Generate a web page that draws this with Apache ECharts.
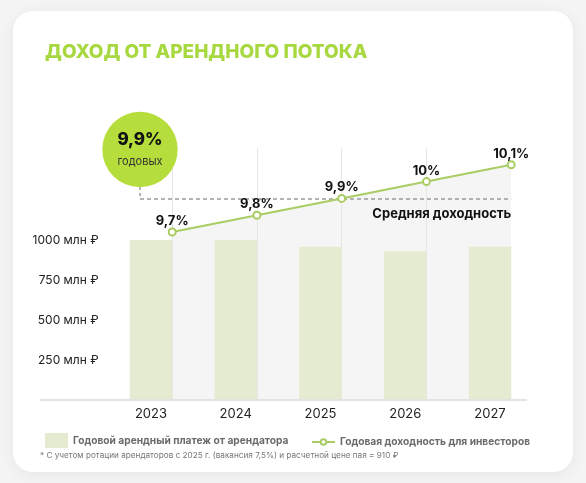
<!DOCTYPE html>
<html>
<head>
<meta charset="utf-8">
<script src="https://cdn.jsdelivr.net/npm/echarts@6/dist/echarts.min.js"></script>
<style>
  html, body { margin: 0; padding: 0; width: 586px; height: 483px; background: #f4f4f4; overflow: hidden; }
  #card { position: absolute; left: 13px; top: 11px; width: 560px; height: 461px; background: #fff; border-radius: 20px; box-shadow: 0 3px 16px rgba(0,0,0,0.06); }
  #chart { position: absolute; left: 0; top: 0; width: 586px; height: 483px; }
</style>
</head>
<body>
<div id="card"></div>
<div id="chart"></div>
<script>
const years = ['2023', '2024', '2025', '2026', '2027'];
const rentPayment = [1000, 1000, 958, 930, 958];
const investorYield = [9.7, 9.8, 9.9, 10.0, 10.1];
const averageYield = 9.9;
const yTicks = [250, 500, 750, 1000];
const titleText = 'ДОХОД ОТ АРЕНДНОГО ПОТОКА';
const barName = 'Годовой арендный платеж от арендатора';
const lineName = 'Годовая доходность для инвесторов';
const avgLabel = 'Средняя доходность';
const footnote = '* С учетом ротации арендаторов с 2025 г. (вакансия 7,5%) и расчетной цене пая = 910 ₽';

const FONT = 'Inter, "Noto Sans", sans-serif';
const GREEN = '#a9cd62';
const fmtPct = v => String(v).replace('.', ',') + '%';

const chart = echarts.init(document.getElementById('chart'), null, { renderer: 'canvas' });

const yieldPoints = investorYield.map((v, i) => [i, v]);

const gridLines = years.slice(0, years.length - 1).map((_, i) => ({
  xAxis: i,
  lineStyle: { color: '#e6e6e6', width: 1, type: 'solid' },
  label: { show: false }
}));

const legendText = { color: '#6b6b6b', fontSize: 10.2, fontWeight: 'bold', fontFamily: FONT };

const option = {
  backgroundColor: 'transparent',
  animation: false,
  textStyle: { fontFamily: FONT },
  title: {
    text: titleText,
    left: 40,
    top: 38,
    textStyle: { color: '#a8d840', fontSize: 19, fontWeight: 800, fontFamily: FONT }
  },
  grid: { left: 108.6, right: 53.6, top: 148, bottom: 83 },
  legend: [
    {
      left: 40, top: 428, itemWidth: 23, itemHeight: 15, itemGap: 6,
      textStyle: legendText,
      data: [{ name: barName, icon: 'rect' }]
    },
    {
      left: 306, top: 432, itemWidth: 23, itemHeight: 7, itemGap: 6,
      textStyle: legendText,
      data: [{ name: lineName }]
    }
  ],
  xAxis: [
    {
      type: 'category',
      data: years,
      axisLine: { show: false },
      axisTick: { show: false },
      axisLabel: { color: '#222', fontSize: 13, margin: 8 },
      splitLine: { show: false }
    },
    {
      type: 'value',
      min: -0.75,
      max: 4.25,
      show: false
    }
  ],
  yAxis: [
    {
      type: 'value',
      min: 0,
      max: 1575,
      interval: 250,
      axisLine: { show: false },
      axisTick: { show: false },
      splitLine: { show: false },
      axisLabel: {
        color: '#222',
        fontSize: 12,
        margin: 10,
        formatter: v => yTicks.includes(v) ? v + ' млн ₽' : ''
      }
    },
    {
      type: 'value',
      min: 8.7,
      max: 10.2,
      show: false
    }
  ],
  series: [
    {
      name: 'area',
      type: 'line',
      xAxisIndex: 1,
      yAxisIndex: 1,
      z: 1,
      silent: true,
      data: yieldPoints,
      symbol: 'none',
      lineStyle: { width: 0, opacity: 0 },
      areaStyle: { color: '#f5f5f5', opacity: 1, origin: 'start' },
      markLine: {
        silent: true,
        symbol: 'none',
        animation: false,
        z: 2,
        data: gridLines.concat([
          [
            { coord: [-0.38, averageYield], lineStyle: { color: '#9a9a9a', width: 1.5, type: [4, 3] } },
            {
              coord: [4, averageYield],
              label: {
                show: true,
                position: 'insideEndBottom',
                formatter: avgLabel,
                color: '#111',
                fontSize: 13,
                fontWeight: 'bold',
                fontFamily: FONT,
                distance: [0, 9]
              }
            }
          ]
        ])
      }
    },
    {
      name: barName,
      type: 'bar',
      xAxisIndex: 0,
      yAxisIndex: 0,
      barWidth: '50%',
      itemStyle: { color: '#e4ebd1' },
      data: rentPayment,
      z: 3
    },
    {
      name: lineName,
      type: 'line',
      xAxisIndex: 1,
      yAxisIndex: 1,
      z: 5,
      data: yieldPoints,
      symbol: 'circle',
      symbolSize: 7,
      lineStyle: { color: GREEN, width: 2 },
      itemStyle: { color: '#fff', borderColor: GREEN, borderWidth: 2 },
      label: {
        show: true,
        position: 'top',
        distance: 0,
        color: '#111',
        fontSize: 13,
        fontWeight: 'bold',
        fontFamily: FONT,
        formatter: p => fmtPct(p.value[1])
      }
    }
  ],
  graphic: [
    {
      type: 'line',
      shape: { x1: 40, y1: 400, x2: 527, y2: 400 },
      style: { stroke: '#e3e3e3', lineWidth: 2 },
      z: 10
    },
    {
      type: 'line',
      shape: { x1: 140, y1: 187, x2: 140, y2: 198 },
      style: { stroke: '#9a9a9a', lineWidth: 1.5, lineDash: [3, 3] },
      z: 10
    },
    {
      type: 'circle',
      shape: { cx: 140, cy: 149.5, r: 37.7 },
      style: { fill: '#b5de3c' },
      z: 10
    },
    {
      type: 'text',
      x: 140, y: 140,
      style: { text: fmtPct(averageYield), fill: '#111', font: '800 17px ' + FONT, textAlign: 'center', textVerticalAlign: 'middle' },
      z: 11
    },
    {
      type: 'text',
      x: 140, y: 162,
      style: { text: 'годовых', fill: '#333', font: '11px ' + FONT, textAlign: 'center', textVerticalAlign: 'middle' },
      z: 11
    },
    {
      type: 'text',
      x: 40, y: 456,
      style: { text: footnote, fill: '#777', font: '8.2px ' + FONT, textAlign: 'left', textVerticalAlign: 'middle' },
      z: 11
    }
  ]
};

chart.setOption(option);
</script>
</body>
</html>
